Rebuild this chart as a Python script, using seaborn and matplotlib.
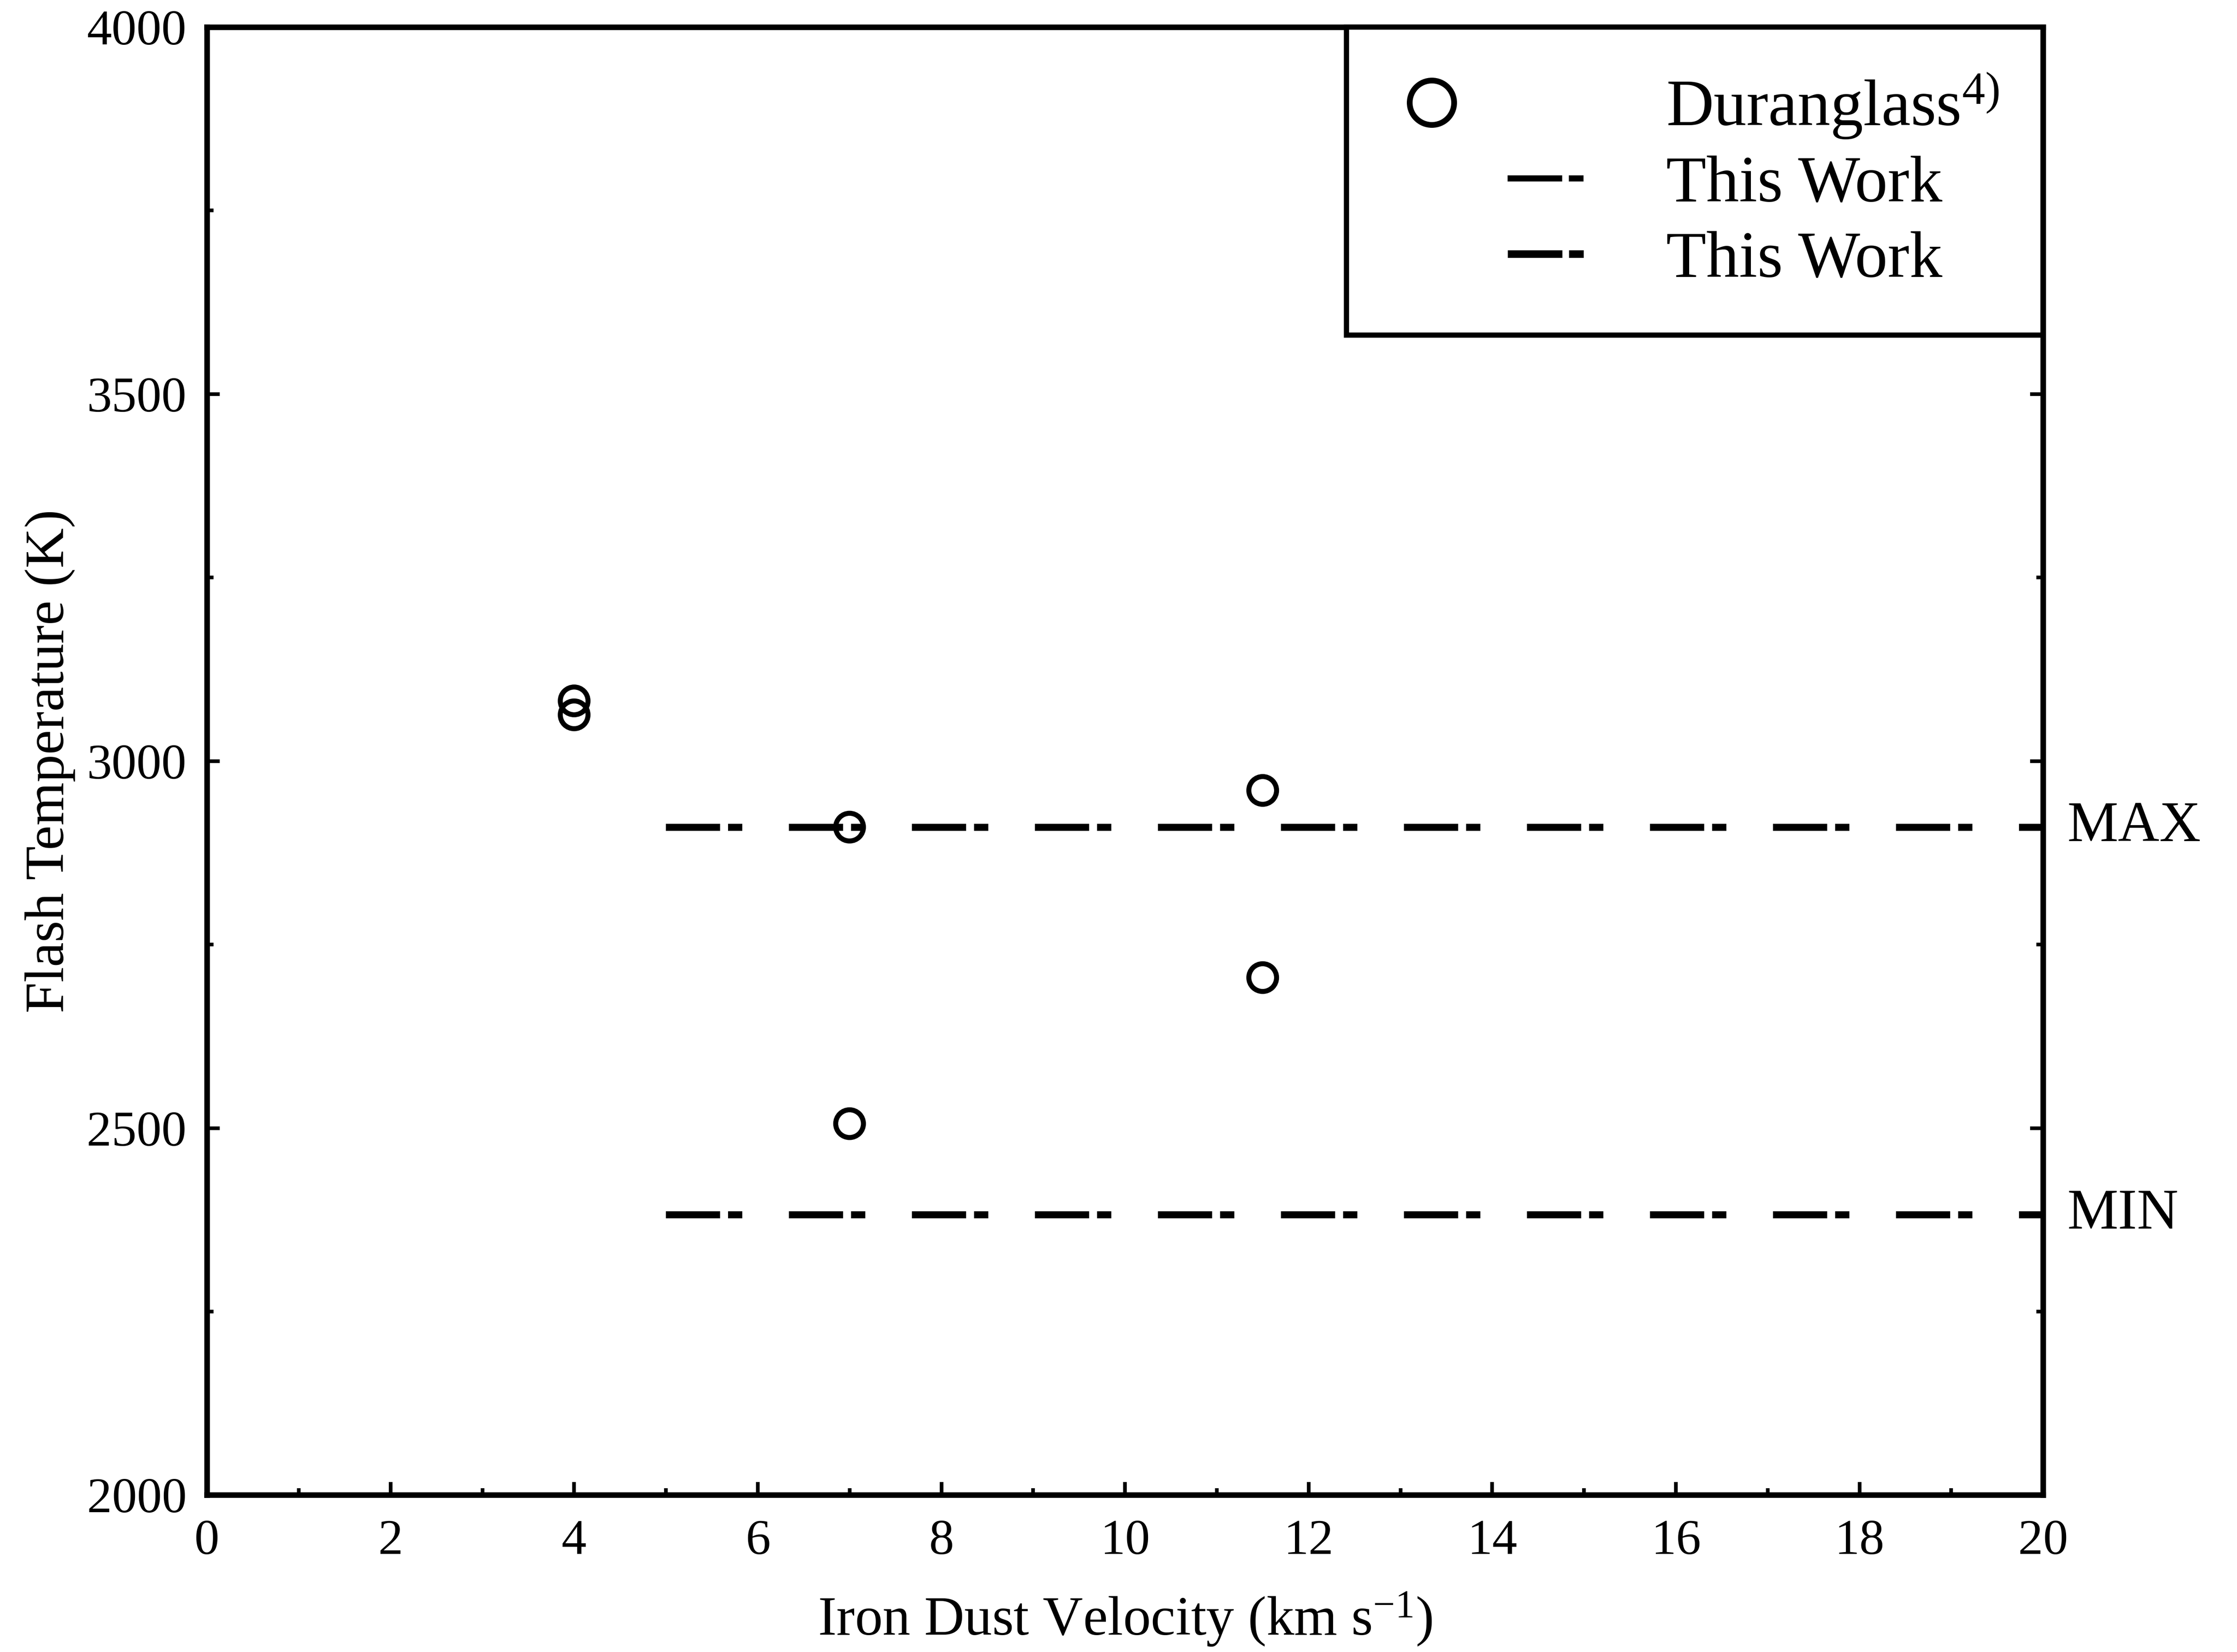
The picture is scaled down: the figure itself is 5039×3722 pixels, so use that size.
import matplotlib
matplotlib.use("Agg")
import matplotlib.pyplot as plt
import numpy as np
import pandas as pd
import seaborn as sns
from matplotlib.lines import Line2D
from matplotlib.ticker import MultipleLocator

# Duranglass reference measurements (ref. 4)
duranglass_velocity = [4.0, 4.0, 7.0, 7.0, 11.5, 11.5]          # km/s
duranglass_temp = [3082, 3063, 2910, 2506, 2960, 2705]          # K

# This work: maximum / minimum flash temperature over the velocity range
this_work_velocity = [5.0, 20.0]
this_work_max = [2910, 2910]
this_work_min = [2382, 2382]

x_ticks = [0, 2, 4, 6, 8, 10, 12, 14, 16, 18, 20]
y_ticks = [2000, 2500, 3000, 3500, 4000]

legend_labels = ["Duranglass$^{\\mathrm{4)}}$", "This Work", "This Work"]
x_label = "Iron Dust Velocity (km s$^{\\mathrm{-1}}$)"
y_label = "Flash Temperature (K)"

sns.set_theme(style="ticks")
plt.rcParams.update({
    "font.family": ["Liberation Serif", "DejaVu Serif"],
    "mathtext.fontset": "custom",
    "mathtext.rm": "Liberation Serif",
    "mathtext.it": "Liberation Serif:italic",
    "mathtext.bf": "Liberation Serif:bold",
    "lines.scale_dashes": False,
    "axes.linewidth": 3.0,
    "axes.edgecolor": "black",
    "text.color": "black",
    "axes.labelcolor": "black",
    "xtick.color": "black",
    "ytick.color": "black",
})

DPI = 300
fig = plt.figure(figsize=(5039 / DPI, 3722 / DPI), dpi=DPI, facecolor="white")
ax = fig.add_axes([0.0925, 0.095, 0.8208, 0.8886])
ax.set_facecolor("white")

# long dash, short gap, dot, long gap (points)
dash_dot = (0, (29.3, 4.3, 7.7, 25.2))

df_pts = pd.DataFrame({"v": duranglass_velocity, "T": duranglass_temp})
sns.scatterplot(data=df_pts, x="v", y="T", marker="o", s=225,
                facecolor="none", edgecolor="black", linewidth=2.7,
                ax=ax, legend=False, zorder=3)

df_max = pd.DataFrame({"v": this_work_velocity, "T": this_work_max})
df_min = pd.DataFrame({"v": this_work_velocity, "T": this_work_min})
sns.lineplot(data=df_max, x="v", y="T", color="black", linewidth=3.8,
             linestyle=dash_dot, ax=ax, legend=False)
sns.lineplot(data=df_min, x="v", y="T", color="black", linewidth=3.8,
             linestyle=dash_dot, ax=ax, legend=False)

# MAX / MIN tags on the right of the frame
for txt, val in (("MAX", this_work_max[-1]), ("MIN", this_work_min[-1])):
    ax.annotate(txt, xy=(1.0, val), xycoords=("axes fraction", "data"),
                xytext=(13, 0), textcoords="offset points",
                ha="left", va="center", fontsize=31, annotation_clip=False)

ax.set_xlim(0, 20)
ax.set_ylim(2000, 4000)
ax.set_xticks(x_ticks)
ax.set_yticks(y_ticks)
ax.xaxis.set_minor_locator(MultipleLocator(1))
ax.yaxis.set_minor_locator(MultipleLocator(250))
ax.tick_params(which="both", direction="in", top=False, right=True, width=2.0)
ax.tick_params(which="major", length=7)
ax.tick_params(which="minor", length=3.5)
ax.tick_params(axis="x", which="major", labelsize=27, pad=13)
ax.tick_params(axis="y", which="major", labelsize=27, pad=11)
for s in ax.spines.values():
    s.set_visible(True)
    s.set_linewidth(3.0)
    s.set_color("black")

ax.set_xlabel(x_label, fontsize=30, labelpad=14)
ax.set_ylabel(y_label, fontsize=30, labelpad=6)


# Legend symbols: open circle on the left, dash-dot segments on the right
class CircleHandler:
    def legend_artist(self, legend, orig_handle, fontsize, handlebox):
        x0, y0 = handlebox.xdescent, handlebox.ydescent
        h = handlebox.height
        art = Line2D([x0 + 22.3], [y0 + h / 2], marker="o", markersize=24,
                     markerfacecolor="none", markeredgecolor="black",
                     markeredgewidth=3.1, linestyle="none")
        handlebox.add_artist(art)
        return art


class DashDotHandler:
    def __init__(self, lw):
        self.lw = lw

    def legend_artist(self, legend, orig_handle, fontsize, handlebox):
        x0, y0 = handlebox.xdescent, handlebox.ydescent
        h = handlebox.height
        art = Line2D([x0 + 63.4, x0 + 104.5], [y0 + h / 2, y0 + h / 2],
                     color="black", linewidth=self.lw,
                     linestyle=(0, (29.5, 3.6, 8.0, 20)))
        handlebox.add_artist(art)
        return art


h_dur = Line2D([], [], label=legend_labels[0])
h_tw1 = Line2D([], [], label=legend_labels[1])
h_tw2 = Line2D([], [], label=legend_labels[2])
LEG_FS = 35.5
leg = ax.legend(handles=[h_dur, h_tw1, h_tw2], labels=legend_labels,
                handler_map={h_dur: CircleHandler(), h_tw1: DashDotHandler(3.3),
                             h_tw2: DashDotHandler(4.1)},
                loc="upper right", bbox_to_anchor=(1.0, 1.0), borderaxespad=0,
                frameon=True, fancybox=False, edgecolor="black", framealpha=1,
                fontsize=LEG_FS, handlelength=105 / LEG_FS, handletextpad=1.24,
                borderpad=0.67, labelspacing=0.23)
leg.get_frame().set_linewidth(2.8)

fig.savefig("out.png", dpi=DPI, facecolor="white")
